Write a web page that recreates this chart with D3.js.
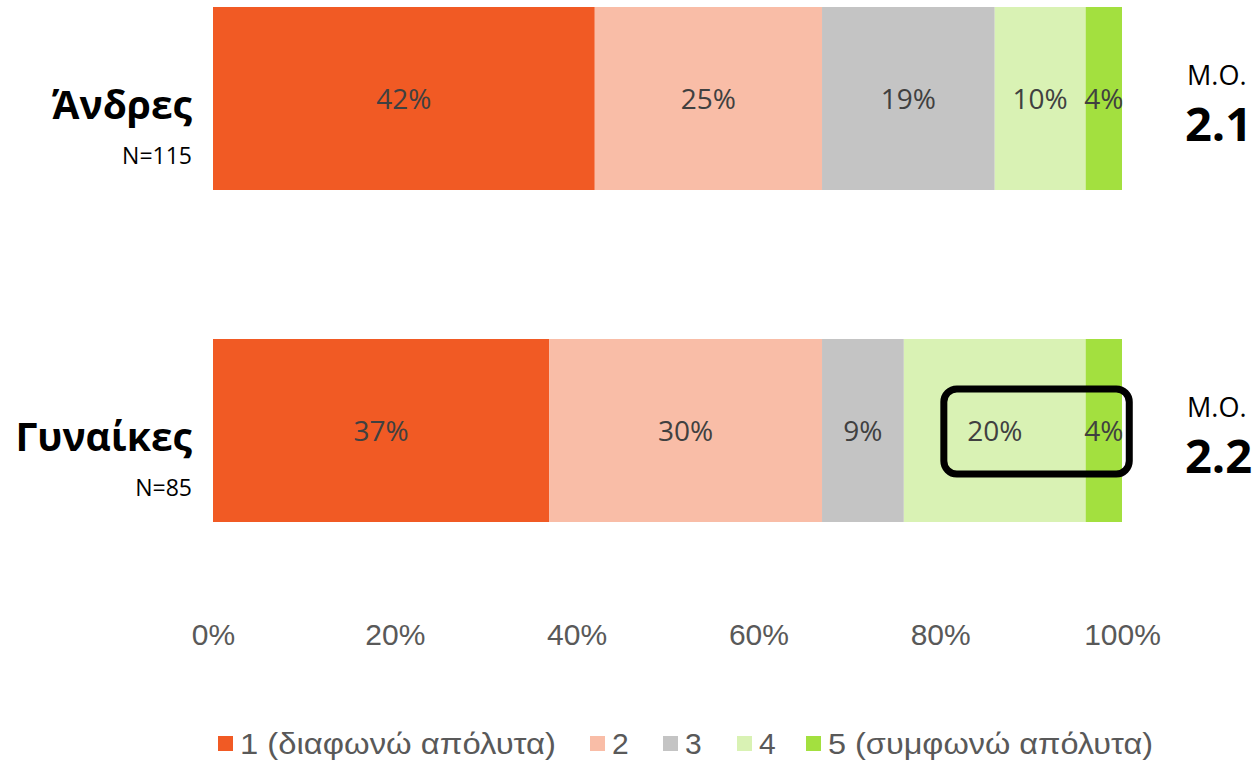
<!DOCTYPE html>
<html lang="el">
<head>
<meta charset="UTF-8">
<title>Άνδρες / Γυναίκες</title>
<style>
    body { margin: 0; background: #fff; }
    svg { display: block; }
</style>
</head>
<body>
<div id="chart"></div>
<script src="https://d3js.org/d3.v7.min.js"></script>
<script>
    // data
    const groups = ["Άνδρες", "Γυναίκες"];
    const groupN = ["N=115", "N=85"];
    const means = ["2.1", "2.2"];
    const levels = ["1 (διαφωνώ απόλυτα)", "2", "3", "4", "5 (συμφωνώ απόλυτα)"];
    const men = [42, 25, 19, 10, 4];
    const women = [37, 30, 9, 20, 4];
    const xTicks = [0, 20, 40, 60, 80, 100];
    const colors = ["#F15A24", "#F9BDA7", "#C4C4C4", "#D9F2B4", "#A3E03F"];

    const W = 1258, H = 761;
    const svg = d3.select("#chart").append("svg").attr("width", W).attr("height", H);

    const x = d3.scaleLinear().domain([0, 100]).range([213, 1122]);
    const y = d3.scalePoint().domain(groups).range([7, 339]);
    const barH = 183;

    const rows = [men, women];
    rows.forEach((vals, gi) => {
        let acc = 0;
        const stack = vals.map((v, i) => { const s = { i, v, x0: acc, x1: acc + v }; acc += v; return s; });
        const g = svg.append("g");
        const top = y(groups[gi]);
        g.selectAll("rect").data(stack).enter().append("rect")
            .attr("x", d => x(d.x0))
            .attr("width", d => x(d.x1) - x(d.x0))
            .attr("y", top)
            .attr("height", barH)
            .attr("fill", d => colors[d.i]);
        g.selectAll("text").data(stack).enter().append("text")
            .attr("x", d => (x(d.x0) + x(d.x1)) / 2)
            .attr("y", top + barH / 2 + 10)
            .attr("text-anchor", "middle")
            .style("font-family", "'Open Sans', sans-serif")
            .style("font-size", "28px")
            .attr("fill", "#404040")
            .text(d => d.v + "%");

        // category labels
        svg.append("text")
            .attr("x", 192).attr("y", top + 112)
            .attr("text-anchor", "end")
            .style("font-family", "'Open Sans', sans-serif")
            .style("font-weight", "bold")
            .style("font-size", "39px")
            .attr("fill", "#000")
            .text(groups[gi]);
        svg.append("text")
            .attr("x", 192).attr("y", top + 157)
            .attr("text-anchor", "end")
            .style("font-family", "'Open Sans', sans-serif")
            .style("font-size", "23px")
            .attr("fill", "#000")
            .text(groupN[gi]);

        // mean
        svg.append("text")
            .attr("x", 1187).attr("y", top + 78)
            .style("font-family", "'Open Sans', sans-serif")
            .style("font-size", "27px")
            .attr("fill", "#000")
            .text("Μ.Ο.");
        svg.append("text")
            .attr("x", 1185).attr("y", top + 134)
            .style("font-family", "'Open Sans', sans-serif")
            .style("font-weight", "bold")
            .style("font-size", "47px")
            .attr("fill", "#000")
            .text(means[gi]);
    });

    // x axis (labels only)
    const axis = svg.append("g")
        .attr("transform", "translate(0,645)")
        .call(d3.axisBottom(x).tickValues(xTicks).tickFormat(d => d + "%").tickSize(0).tickPadding(0));
    axis.select(".domain").remove();
    axis.selectAll("text")
        .attr("dy", 0)
        .style("font-family", "'Liberation Sans', Arial, sans-serif")
        .style("font-size", "30px")
        .attr("fill", "#595959");

    // highlight box
    svg.append("rect")
        .attr("x", x(80.4)).attr("y", 389)
        .attr("width", x(100.8) - x(80.4)).attr("height", 85)
        .attr("rx", 13)
        .attr("fill", "none")
        .attr("stroke", "#000")
        .attr("stroke-width", 7);

    // legend
    const legendX = [218, 590, 663, 737, 806];
    const legendLen = [316, 17, 17, 17, 325];
    const legend = svg.append("g");
    levels.forEach((lv, i) => {
        legend.append("rect")
            .attr("x", legendX[i]).attr("y", 736)
            .attr("width", 15).attr("height", 15)
            .attr("fill", colors[i]);
        const t = legend.append("text")
            .attr("x", legendX[i] + 22).attr("y", 754)
            .style("font-family", "'Liberation Sans', Arial, sans-serif")
            .style("font-size", "30px")
            .attr("fill", "#595959")
            .text(lv);
        if (lv.length > 1) t.attr("textLength", legendLen[i]).attr("lengthAdjust", "spacingAndGlyphs");
    });
</script>
</body>
</html>
